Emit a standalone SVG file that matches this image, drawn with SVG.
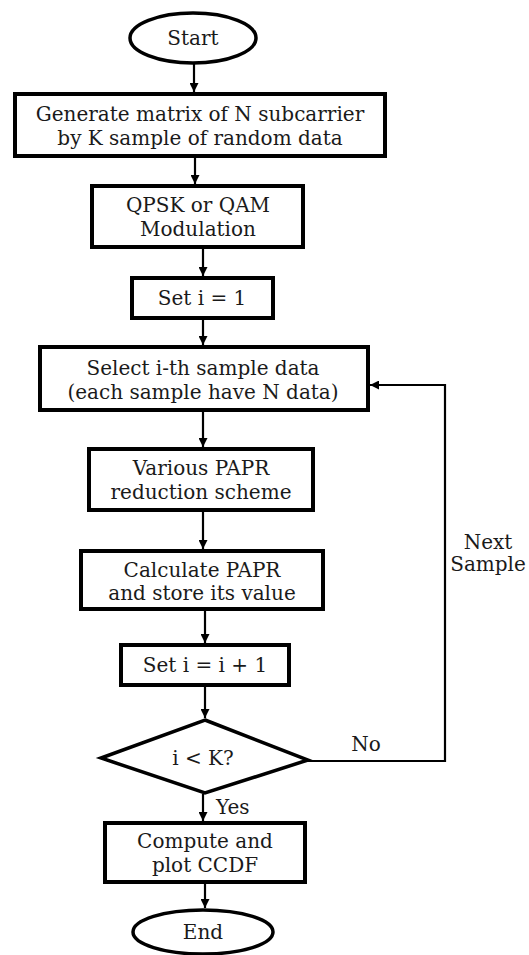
<svg xmlns="http://www.w3.org/2000/svg" width="529" height="955" viewBox="0 0 529 955">
<defs>
<marker id="ah" viewBox="0 0 10 10" refX="10" refY="5" markerWidth="9" markerHeight="9" markerUnits="userSpaceOnUse" orient="auto">
<path d="M0,0 L10,5 L0,10 z" fill="#000"/>
</marker>
<style>
.box{fill:#fff;stroke:#000;stroke-width:4}
.term{fill:#fff;stroke:#000;stroke-width:3.5}
.t{font-family:"DejaVu Serif","Liberation Serif",serif;font-size:20px;fill:#1a1a1a;text-anchor:middle}
.lbl{font-family:"DejaVu Serif","Liberation Serif",serif;font-size:20px;fill:#1a1a1a}
.c{fill:none;stroke:#000;stroke-width:2.2;marker-end:url(#ah)}
</style>
</defs>
<rect width="529" height="955" fill="#fff"/>
<g id="connectors">
<path class="c" d="M194,64 V92"/>
<path class="c" d="M195,157 V184"/>
<path class="c" d="M203,249 V276"/>
<path class="c" d="M203,320 V345"/>
<path class="c" d="M203,412 V447"/>
<path class="c" d="M203,512 V549"/>
<path class="c" d="M205,611 V643"/>
<path class="c" d="M205,687 V718"/>
<path class="c" d="M308,761 H445 V385 H370"/>
<path class="c" d="M203,794 V821"/>
<path class="c" d="M205,884 V908"/>
<text class="lbl" x="366" y="751" text-anchor="middle">No</text>
<text class="lbl" x="488" y="549" text-anchor="middle">Next</text>
<text class="lbl" x="488" y="571" text-anchor="middle">Sample</text>
<text class="lbl" x="216" y="814">Yes</text>
</g>
<g id="start">
<ellipse class="term" cx="193" cy="38" rx="63" ry="25"/>
<text class="t" x="193" y="45">Start</text>
</g>
<g id="generate">
<rect class="box" x="15" y="94" width="370" height="62"/>
<text class="t" x="200" y="121">Generate matrix of N subcarrier</text>
<text class="t" x="200" y="145">by K sample of random data</text>
</g>
<g id="modulation">
<rect class="box" x="92" y="186" width="211" height="61"/>
<text class="t" x="198" y="212">QPSK or QAM</text>
<text class="t" x="198" y="236">Modulation</text>
</g>
<g id="set1">
<rect class="box" x="132" y="278" width="141" height="40"/>
<text class="t" x="202" y="305">Set i = 1</text>
</g>
<g id="select">
<rect class="box" x="40" y="347" width="328" height="63"/>
<text class="t" x="203" y="375">Select i-th sample data</text>
<text class="t" x="203" y="399">(each sample have N data)</text>
</g>
<g id="various">
<rect class="box" x="89" y="449" width="224" height="61"/>
<text class="t" x="201" y="475">Various PAPR</text>
<text class="t" x="201" y="499">reduction scheme</text>
</g>
<g id="calculate">
<rect class="box" x="81" y="551" width="242" height="58"/>
<text class="t" x="202" y="577">Calculate PAPR</text>
<text class="t" x="202" y="600">and store its value</text>
</g>
<g id="increment">
<rect class="box" x="121" y="645" width="168" height="40"/>
<text class="t" x="205" y="672">Set i = i + 1</text>
</g>
<g id="decision">
<polygon class="term" points="205,720 308,760 205,793 101,758"/>
<text class="t" x="203" y="765">i &lt; K?</text>
</g>
<g id="compute">
<rect class="box" x="105" y="823" width="200" height="59"/>
<text class="t" x="205" y="848">Compute and</text>
<text class="t" x="205" y="872">plot CCDF</text>
</g>
<g id="end">
<ellipse class="term" cx="203" cy="932" rx="70" ry="22"/>
<text class="t" x="203" y="939">End</text>
</g>
</svg>
